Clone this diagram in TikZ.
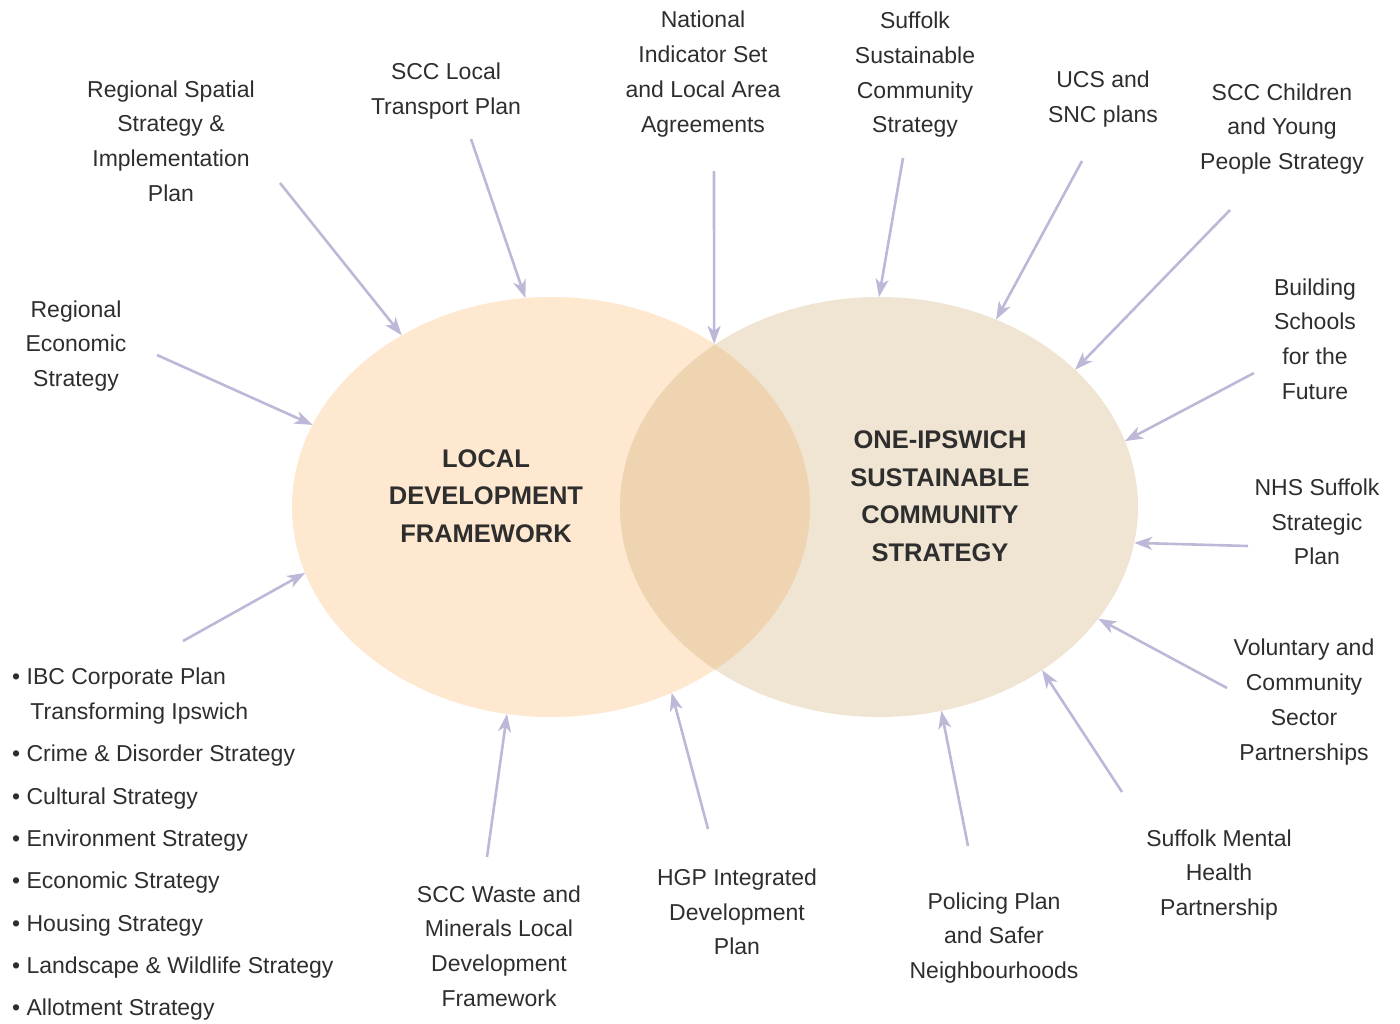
\documentclass[tikz,border=0pt]{standalone}
\usepackage{fontspec}
\setmainfont{Liberation Sans}
\usepackage{tikz}
\usetikzlibrary{arrows.meta,shapes.geometric}
\definecolor{ldfcol}{HTML}{FEE8CF}
\definecolor{scscol}{HTML}{F0E4D2}
\definecolor{ovcol}{HTML}{EED4B0}
\definecolor{arrcol}{HTML}{BDB8D7}
\definecolor{txtcol}{HTML}{2E2E2E}

\begin{document}
\begin{tikzpicture}[x=1pt,y=-1pt]
\tikzset{lbl/.style={align=center,text=txtcol,inner sep=0pt,
font=\fontsize{23}{34.7}\selectfont}}
\tikzset{ttl/.style={align=center,text=txtcol,inner sep=0pt,
font=\fontsize{25.5}{37.5}\selectfont\bfseries}}
\tikzset{blob/.style={ellipse,minimum width=518pt,minimum height=420pt,
inner sep=0pt,outer sep=0pt}}
\tikzset{feed/.style={draw=arrcol,line width=2.6pt,
-{Stealth[length=18pt,width=13pt,inset=5pt]}}}
\useasboundingbox (0,0) rectangle (1400,1023);

\node[blob,fill=ldfcol] (ldf) at (551,507) {};
\node[blob,fill=scscol] (scs) at (879,507) {};
\begin{scope}
\clip (551,507) ellipse [x radius=259,y radius=210];
\fill[ovcol] (879,507) ellipse [x radius=259,y radius=210];
\end{scope}

\node[ttl] (ldft) at (486,496) {LOCAL\\DEVELOPMENT\\FRAMEWORK};
\node[ttl] (scst) at (940,496) {ONE-IPSWICH\\SUSTAINABLE\\COMMUNITY\\STRATEGY};

\node[lbl] (rss) at (171,141) {Regional Spatial\\Strategy \&\\Implementation\\Plan};
\node[lbl] (ltp) at (446,91) {SCC Local\\Transport Plan};
\node[lbl] (nis) at (703,74) {National\\Indicator Set\\and Local Area\\Agreements};
\node[lbl] (sscs) at (915,75) {Suffolk\\Sustainable\\Community\\Strategy};
\node[lbl] (ucs) at (1103,99) {UCS and\\SNC plans};
\node[lbl] (cyp) at (1282,129) {SCC Children\\and Young\\People Strategy};
\node[lbl] (bsf) at (1315,339) {Building\\Schools\\for the\\Future};
\node[lbl] (nhs) at (1317,522) {NHS Suffolk\\Strategic\\Plan};
\node[lbl] (vcs) at (1304,702) {Voluntary and\\Community\\Sector\\Partnerships};
\node[lbl] (smh) at (1219,875) {Suffolk Mental\\Health\\Partnership};
\node[lbl] (pol) at (994,938) {Policing Plan\\and Safer\\Neighbourhoods};
\node[lbl] (hgp) at (737,912) {HGP Integrated\\Development\\Plan};
\node[lbl] (swm) at (499,946) {SCC Waste and\\Minerals Local\\Development\\Framework};
\node[lbl] (res) at (76,346) {Regional\\Economic\\Strategy};
\node[lbl,align=left,anchor=north west] (ibc) at (12,668)
{\textbullet\ IBC Corporate Plan\\
\phantom{\textbullet}\ \,Transforming Ipswich\\[7.6pt]
\textbullet\ Crime \& Disorder Strategy\\[7.6pt]
\textbullet\ Cultural Strategy\\[7.6pt]
\textbullet\ Environment Strategy\\[7.6pt]
\textbullet\ Economic Strategy\\[7.6pt]
\textbullet\ Housing Strategy\\[7.6pt]
\textbullet\ Landscape \& Wildlife Strategy\\[7.6pt]
\textbullet\ Allotment Strategy};

\coordinate (rss-s) at (280,183);
\coordinate (ltp-s) at (471,139);
\coordinate (nis-s) at (714,171);
\coordinate (sscs-s) at (903,158);
\coordinate (ucs-s) at (1082,161);
\coordinate (cyp-s) at (1230,210);
\coordinate (bsf-s) at (1254,373);
\coordinate (nhs-s) at (1248,546);
\coordinate (vcs-s) at (1227,688);
\coordinate (smh-s) at (1122,792);
\coordinate (pol-s) at (968,846);
\coordinate (hgp-s) at (708,829);
\coordinate (swm-s) at (487,857);
\coordinate (ibc-s) at (183,641);
\coordinate (res-s) at (157,355);

\draw[feed] (rss-s) -- (ldf.131);
\draw[feed] (ltp-s) -- (ldf.97);
\draw[feed] (nis-s) -- (ldf.45);
\draw[feed] (sscs-s) -- (scs.90);
\draw[feed] (ucs-s) -- (scs.58);
\draw[feed] (cyp-s) -- (scs.35);
\draw[feed] (bsf-s) -- (scs.15);
\draw[feed] (nhs-s) -- (scs.352);
\draw[feed] (vcs-s) -- (scs.333);
\draw[feed] (smh-s) -- (scs.315);
\draw[feed] (pol-s) -- (scs.287);
\draw[feed] (hgp-s) -- (ldf.303);
\draw[feed] (swm-s) -- (ldf.258);
\draw[feed] (ibc-s) -- (ldf.195);
\draw[feed] (res-s) -- (ldf.161);
\end{tikzpicture}
\end{document}
